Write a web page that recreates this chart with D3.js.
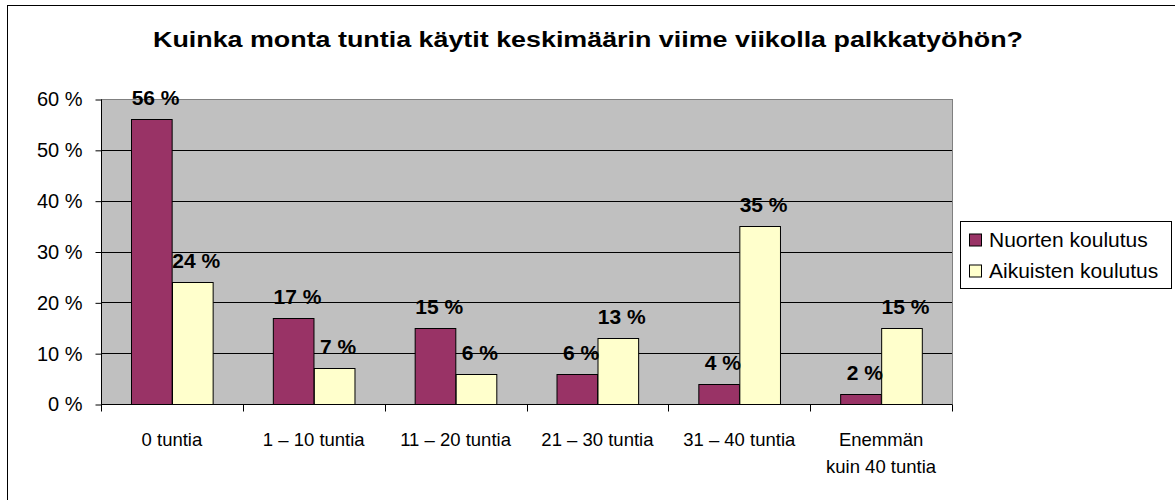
<!DOCTYPE html>
<html>
<head>
<meta charset="utf-8">
<script src="https://d3js.org/d3.v7.min.js"></script>
<style>
    body { margin: 0; background: #fff; }
    text { font-family: Arial, "Liberation Sans", sans-serif; fill: #000; }
</style>
</head>
<body>
<svg id="plt"></svg>
<script>
const title = "Kuinka monta tuntia käytit keskimäärin viime viikolla palkkatyöhön?";
const categories = ["0 tuntia", "1 – 10 tuntia", "11 – 20 tuntia", "21 – 30 tuntia", "31 – 40 tuntia", "Enemmän\nkuin 40 tuntia"];
const series = ["Nuorten koulutus", "Aikuisten koulutus"];
const nuorten = [56, 17, 15, 6, 4, 2];
const aikuisten = [24, 7, 6, 13, 35, 15];
const yTicks = [0, 10, 20, 30, 40, 50, 60];
const colors = ["#993366", "#FFFFCC"];

// plot area bounds
const plot = { left: 101, right: 952, top: 99, bottom: 404 };

const svg = d3.select("#plt")
    .attr("width", 1175)
    .attr("height", 500);

// chart border (right/bottom edges sit outside the frame)
svg.append("rect")
    .attr("x", 7.5).attr("y", 5.5)
    .attr("width", 1180).attr("height", 510)
    .attr("fill", "#fff")
    .attr("stroke", "#000");

svg.append("text")
    .attr("x", 588)
    .attr("y", 47)
    .attr("text-anchor", "middle")
    .attr("textLength", 870)
    .attr("lengthAdjust", "spacingAndGlyphs")
    .style("font-size", "22px")
    .style("font-weight", "bold")
    .text(title);

let x = d3.scaleBand().domain(categories).range([plot.left, plot.right]).padding(0);
let xs = d3.scaleBand().domain(series).range([0, x.bandwidth()]).paddingInner(0).paddingOuter(0.745);
let y = d3.scaleLinear().domain([0, 60]).range([plot.bottom, plot.top]);

// plot area
svg.append("rect")
    .attr("x", plot.left + 0.5).attr("y", plot.top + 0.5)
    .attr("width", plot.right - plot.left).attr("height", plot.bottom - plot.top)
    .attr("fill", "#C0C0C0")
    .attr("stroke", "#808080");

// gridlines
svg.append("g")
    .selectAll("line")
    .data(yTicks.filter(d => d > 0 && d < 60))
    .enter().append("line")
    .attr("x1", plot.left).attr("x2", plot.right)
    .attr("y1", d => Math.round(y(d)) + 0.5)
    .attr("y2", d => Math.round(y(d)) + 0.5)
    .attr("stroke", "#000");

// bars
const data = categories.map((c, i) => ({ cat: c, vals: [nuorten[i], aikuisten[i]] }));
const groups = svg.append("g").selectAll("g")
    .data(data)
    .enter().append("g")
    .attr("transform", d => "translate(" + x(d.cat) + ",0)");

groups.selectAll("rect")
    .data(d => d.vals.map((v, k) => ({ s: series[k], v: v, k: k })))
    .enter().append("rect")
    .attr("x", d => Math.round(xs(d.s)) + 0.5)
    .attr("y", d => Math.round(y(d.v)) + 0.5)
    .attr("width", xs.bandwidth())
    .attr("height", d => Math.round(y(0)) - Math.round(y(d.v)))
    .attr("fill", d => colors[d.k])
    .attr("stroke", "#000");

groups.selectAll("text.lbl")
    .data(d => d.vals.map((v, k) => ({ s: series[k], v: v, k: k })))
    .enter().append("text")
    .attr("class", "lbl")
    .attr("x", d => xs(d.s) + xs.bandwidth() / 2 + 4)
    .attr("y", d => y(d.v) - 14)
    .attr("text-anchor", "middle")
    .style("font-size", "21px")
    .style("font-weight", "bold")
    .text(d => d.v + " %");

// y axis
const yAxis = svg.append("g")
    .attr("transform", "translate(" + (plot.left + 0.5) + ",0.5)")
    .call(d3.axisLeft(y).tickValues(yTicks).tickSize(6).tickPadding(13).tickFormat(d => d + " %"));
yAxis.selectAll("line").attr("stroke", "#000");
yAxis.select(".domain").attr("stroke", "#000").attr("d", "M0," + y(60) + "V" + y(0));
yAxis.selectAll("text")
    .style("font-size", "20px")
    .style("font-family", "Arial, 'Liberation Sans', sans-serif")
    .attr("fill", "#000");

// x axis
const xAxis = svg.append("g")
    .attr("transform", "translate(0," + (Math.round(y(0)) + 0.5) + ")");
xAxis.append("line")
    .attr("x1", plot.left).attr("x2", plot.right)
    .attr("stroke", "#000");
xAxis.selectAll("line.tick")
    .data(d3.range(categories.length + 1))
    .enter().append("line")
    .attr("class", "tick")
    .attr("x1", i => Math.round(plot.left + i * x.step()) + 0.5)
    .attr("x2", i => Math.round(plot.left + i * x.step()) + 0.5)
    .attr("y1", 0).attr("y2", 7)
    .attr("stroke", "#000");

xAxis.selectAll("text")
    .data(categories)
    .enter().append("text")
    .attr("text-anchor", "middle")
    .style("font-size", "18.5px")
    .each(function (d) {
        let lines = d.split("\n");
        let t = d3.select(this);
        lines.forEach(function (line, i) {
            t.append("tspan")
                .attr("x", x(d) + x.bandwidth() / 2)
                .attr("y", 41 + i * 27)
                .text(line);
        });
    });

// legend
const legend = svg.append("g").attr("transform", "translate(960.5,221.5)");
legend.append("rect")
    .attr("width", 211).attr("height", 67)
    .attr("fill", "#fff")
    .attr("stroke", "#000");
series.forEach(function (s, i) {
    legend.append("rect")
        .attr("x", 9).attr("y", 12.5 + i * 31)
        .attr("width", 12).attr("height", 12)
        .attr("fill", colors[i])
        .attr("stroke", "#000");
    legend.append("text")
        .attr("x", 28.5).attr("y", 25.5 + i * 31)
        .style("font-size", "21px")
        .text(s);
});
</script>
</body>
</html>
